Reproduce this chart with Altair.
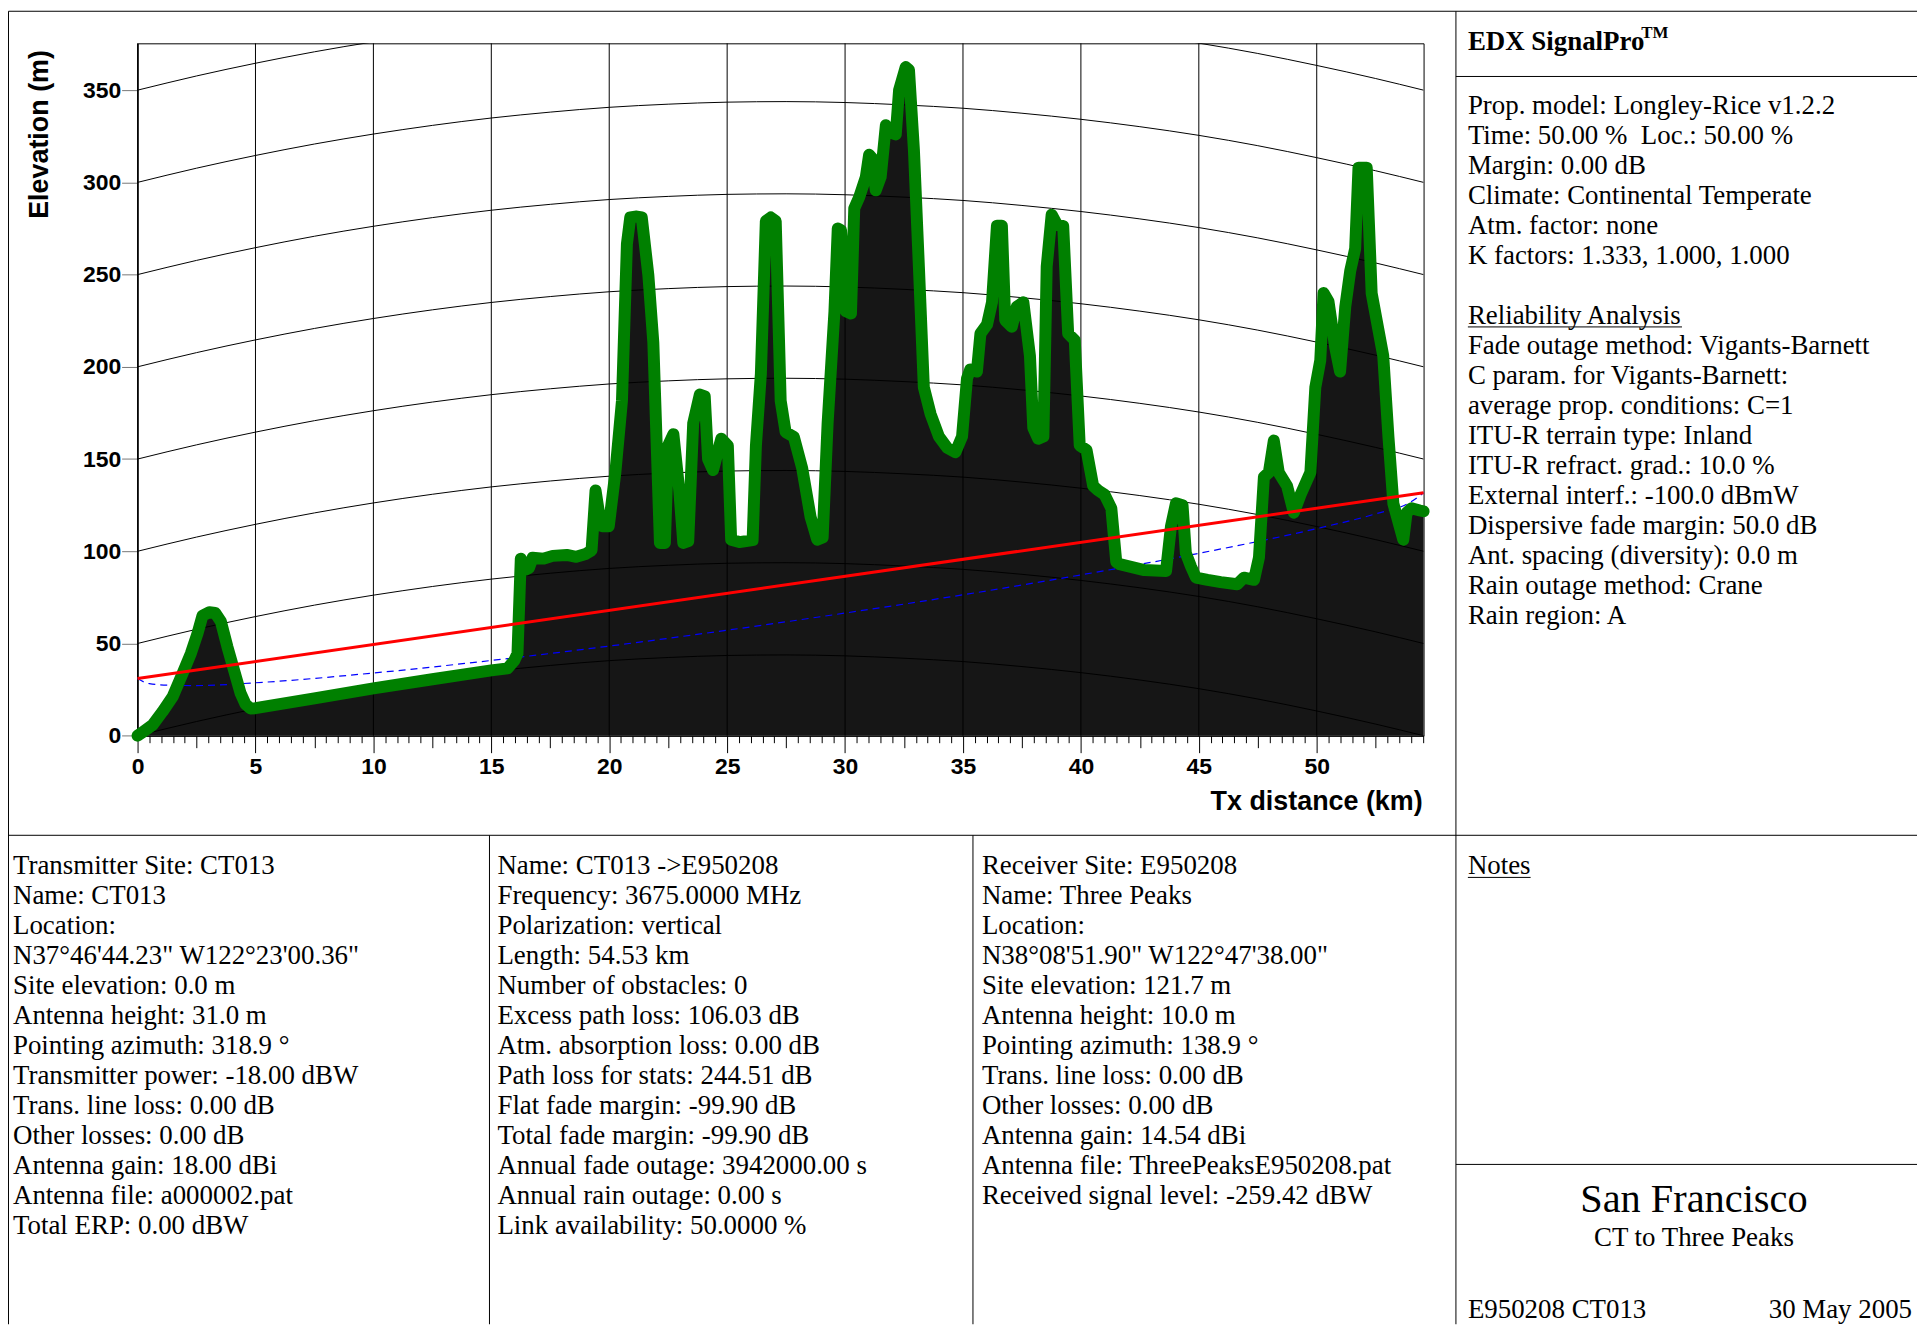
import altair as alt
import pandas as pd

# ---------------- data ----------------
terrain_km = [
    0.0, 0.22, 0.64, 1.06, 1.49, 1.91, 2.26, 2.54, 2.75, 3.04,
    3.29, 3.53, 3.81, 4.09, 4.37, 4.58, 4.79, 5.0, 7.5, 10.0,
    12.5, 15.0, 15.69, 15.97, 16.11, 16.25, 16.45, 16.6, 16.75, 17.2,
    17.6, 18.2, 18.6, 19.0, 19.25, 19.42, 19.6, 19.7, 19.98, 20.26,
    20.54, 20.75, 20.89, 21.17, 21.38, 21.66, 21.87, 22.15, 22.36, 22.5,
    22.72, 22.97, 23.14, 23.35, 23.56, 23.84, 24.05, 24.19, 24.4, 24.75,
    25.03, 25.17, 25.52, 26.08, 26.22, 26.43, 26.64, 26.85, 27.06, 27.27,
    27.48, 27.83, 28.18, 28.54, 28.82, 29.05, 29.26, 29.55, 29.69, 29.83,
    30.04, 30.25, 30.39, 30.6, 30.88, 31.02, 31.16, 31.3, 31.51, 31.73,
    31.94, 32.15, 32.29, 32.57, 32.71, 32.92, 33.13, 33.34, 33.63, 33.98,
    34.33, 34.68, 34.96, 35.17, 35.31, 35.59, 35.74, 36.02, 36.23, 36.44,
    36.65, 36.79, 37.07, 37.28, 37.56, 37.84, 37.98, 38.19, 38.41, 38.55,
    38.76, 38.97, 39.25, 39.46, 39.74, 39.95, 40.24, 40.52, 40.73, 41.01,
    41.29, 41.5, 41.64, 42.69, 43.61, 43.82, 44.03, 44.31, 44.45, 44.67,
    44.88, 45.37, 45.93, 46.63, 46.91, 47.34, 47.55, 47.76, 47.97, 48.18,
    48.39, 48.74, 49.03, 49.31, 49.73, 49.94, 50.15, 50.29, 50.5, 50.78,
    50.99, 51.21, 51.42, 51.63, 51.77, 52.12, 52.33, 52.61, 52.82, 53.04,
    53.25, 53.46, 53.67, 53.81, 54.02, 54.37, 54.53,
]
terrain_m = [
    0.0, 2.0, 5.9, 13.1, 21.2, 33.8, 44.6, 55.4, 65.0, 67.0,
    66.6, 62.0, 48.2, 35.6, 23.0, 17.1, 14.8, 14.9, 20.3, 25.7,
    30.6, 35.4, 36.5, 40.7, 44.6, 96.0, 90.0, 91.0, 96.5, 96.0,
    97.5, 98.0, 97.0, 98.5, 100.5, 133.0, 118.0, 113.6, 113.6, 142.7,
    181.6, 266.6, 281.0, 281.5, 281.0, 249.6, 213.1, 104.5, 104.5, 157.3,
    163.5, 133.0, 104.5, 105.5, 169.4, 185.0, 184.0, 150.0, 144.0, 161.0,
    157.3, 106.3, 105.0, 106.0, 157.3, 196.1, 279.0, 281.0, 279.0, 181.6,
    164.6, 162.0, 145.1, 118.5, 106.3, 107.5, 169.4, 230.1, 275.0, 274.0,
    230.1, 228.9, 285.9, 292.0, 302.9, 315.0, 313.0, 295.7, 302.9, 331.0,
    327.0, 326.0, 350.0, 362.5, 361.0, 317.5, 254.4, 188.9, 174.3, 162.2,
    156.1, 153.7, 162.2, 193.7, 198.6, 197.4, 218.0, 222.9, 235.0, 276.5,
    276.5, 225.3, 221.7, 232.6, 235.0, 205.9, 167.0, 161.0, 162.2, 254.4,
    282.5, 277.5, 276.3, 218.0, 214.4, 157.3, 154.9, 135.5, 133.0, 130.6,
    123.3, 94.2, 93.0, 89.8, 89.3, 113.6, 126.0, 125.0, 99.0, 91.7,
    85.7, 84.5, 83.3, 82.1, 85.7, 84.5, 96.6, 140.3, 142.7, 160.0,
    142.7, 135.5, 120.9, 130.6, 142.7, 188.9, 203.5, 240.0, 235.4, 210.7,
    197.4, 232.6, 252.0, 264.1, 308.0, 308.0, 239.8, 220.4, 205.9, 162.2,
    125.8, 116.0, 106.3, 120.9, 123.3, 122.1, 121.7,
]

# line of sight (Tx 0 m + 31 m antenna, Rx 121.7 m + 10 m antenna)
ray_km = [0.0, 54.53]
ray_m = [31.0, 131.7]

# 0.6 Fresnel clearance line (blue dashed)
fresnel_km = [0, 0.5, 1.5, 2.5, 5, 10, 15, 20, 25, 30, 35, 40, 45, 50, 52.5, 54.0, 54.53]
fresnel_m = [31.0, 28.2, 27.3, 27.2, 28.7, 34.0, 40.8, 48.6, 57.2, 66.5, 76.4, 87.2,
             98.9, 112.3, 120.3, 126.8, 131.7]

# earth-curvature reference lines: bulge above the chord
bulge_km = [0, 2.5, 5, 7.5, 10, 12.5, 15, 17.5, 20, 22.5, 25, 27.5, 30, 32.5, 35,
            37.5, 40, 42.5, 45, 47.5, 50, 52.5, 54.53]
bulge_m = [0, 7.7, 14.6, 20.8, 26.2, 30.9, 34.9, 38.1, 40.7, 42.4, 43.5, 43.8, 43.3,
           42.0, 40.2, 37.5, 34.2, 30.2, 25.5, 19.9, 13.4, 6.3, 0]
curve_levels = [0, 50, 100, 150, 200, 250, 300, 350]

x_label_values = [0, 5, 10, 15, 20, 25, 30, 35, 40, 45, 50]
x_tick_values = [i * 0.5 for i in range(110)]
y_tick_values = [0, 50, 100, 150, 200, 250, 300, 350]

right_lines_1 = [
    "Prop. model: Longley-Rice v1.2.2",
    "Time: 50.00 %\u00a0 Loc.: 50.00 %",
    "Margin: 0.00 dB",
    "Climate: Continental Temperate",
    "Atm. factor: none",
    "K factors: 1.333, 1.000, 1.000",
]
right_lines_2 = [
    "Reliability Analysis",
    "Fade outage method: Vigants-Barnett",
    "C param. for Vigants-Barnett:",
    "average prop. conditions: C=1",
    "ITU-R terrain type: Inland",
    "ITU-R refract. grad.: 10.0 %",
    "External interf.: -100.0 dBmW",
    "Dispersive fade margin: 50.0 dB",
    "Ant. spacing (diversity): 0.0 m",
    "Rain outage method: Crane",
    "Rain region: A",
]
tx_lines = [
    "Transmitter Site: CT013",
    "Name: CT013",
    "Location:",
    "N37°46'44.23\" W122°23'00.36\"",
    "Site elevation: 0.0 m",
    "Antenna height: 31.0 m",
    "Pointing azimuth: 318.9 °",
    "Transmitter power: -18.00 dBW",
    "Trans. line loss: 0.00 dB",
    "Other losses: 0.00 dB",
    "Antenna gain: 18.00 dBi",
    "Antenna file: a000002.pat",
    "Total ERP: 0.00 dBW",
]
link_lines = [
    "Name: CT013 ->E950208",
    "Frequency: 3675.0000 MHz",
    "Polarization: vertical",
    "Length: 54.53 km",
    "Number of obstacles: 0",
    "Excess path loss: 106.03 dB",
    "Atm. absorption loss: 0.00 dB",
    "Path loss for stats: 244.51 dB",
    "Flat fade margin: -99.90 dB",
    "Total fade margin: -99.90 dB",
    "Annual fade outage: 3942000.00 s",
    "Annual rain outage: 0.00 s",
    "Link availability: 50.0000 %",
]
rx_lines = [
    "Receiver Site: E950208",
    "Name: Three Peaks",
    "Location:",
    "N38°08'51.90\" W122°47'38.00\"",
    "Site elevation: 121.7 m",
    "Antenna height: 10.0 m",
    "Pointing azimuth: 138.9 °",
    "Trans. line loss: 0.00 dB",
    "Other losses: 0.00 dB",
    "Antenna gain: 14.54 dBi",
    "Antenna file: ThreePeaksE950208.pat",
    "Received signal level: -259.42 dBW",
]

# ---------------- tables ----------------
terrain_df = pd.DataFrame({"km": terrain_km, "m": terrain_m})
ray_df = pd.DataFrame({"km": ray_km, "m": ray_m})
fresnel_df = pd.DataFrame({"km": fresnel_km, "m": fresnel_m})
curves_df = pd.DataFrame(
    [{"level": lv, "km": k, "m": lv + b} for lv in curve_levels for k, b in zip(bulge_km, bulge_m)]
)
grid_df = pd.DataFrame({"km": x_label_values})
one = pd.DataFrame({"a": [0]})

# ---------------- layout (pixels) ----------------
W, H = 1291.4, 695.3
PAD = {"left": 130.1, "top": 32.7, "right": 495.5, "bottom": 591.0}
X0, Y0 = 138.1, 40.7   # page position of plot origin
RIGHT = W + PAD["right"]
BOTTOM = H + PAD["bottom"]
LEFT = -PAD["left"] + 0.5
TOP = -PAD["top"] + 0.5
LH = 30.1

def px(v):
    return v - X0

def py(v):
    return v - Y0

SERIF = "Liberation Serif"
SANS = "Liberation Sans"

xs = alt.Scale(domain=[0, 54.53], nice=False, zero=False)
ys = alt.Scale(domain=[0, 375.4], nice=False, zero=False)

x_axis = alt.Axis(
    values=x_tick_values,
    grid=False,
    tickColor="black",
    domainColor="black",
    tickSize={"condition": [{"test": "datum.value % 5 === 0", "value": 17},
                            {"test": "datum.value % 2.5 === 0", "value": 12}],
              "value": 7},
    labelExpr="datum.value % 5 === 0 ? format(datum.value, 'd') : ''",
    labelOverlap=False,
    labelFlush=False,
    labelBound=False,
    labelFont=SANS, labelFontSize=23, labelFontWeight="bold", labelColor="black",
    labelPadding=3,
    title="Tx distance (km)",
    titleFont=SANS, titleFontSize=27, titleFontWeight="bold", titleColor="black",
    titleX=1290, titleY=66, titleAlign="right", titleBaseline="middle", titleAnchor="end",
)
y_axis = alt.Axis(
    values=y_tick_values,
    grid=False,
    tickColor="#777777",
    tickSize=16,
    domainColor="black",
    labelFont=SANS, labelFontSize=23, labelFontWeight="bold", labelColor="black",
    labelPadding=1,
    title="Elevation (m)",
    titleFont=SANS, titleFontSize=27, titleFontWeight="bold", titleColor="black",
    titleX=px(39.5), titleY=py(131.7), titleAlign="center", titleBaseline="middle",
)

X_ENC = alt.X("km:Q", scale=xs, axis=x_axis)
Y_ENC = alt.Y("m:Q", scale=ys, axis=y_axis)

area = alt.Chart(terrain_df).mark_area(color="#161616").encode(x=X_ENC, y=Y_ENC)
vgrid = alt.Chart(grid_df).mark_rule(color="black", strokeWidth=1).encode(x=X_ENC)
curves = alt.Chart(curves_df).mark_line(
    color="black", strokeWidth=1, clip=True, interpolate="monotone"
).encode(x=X_ENC, y=Y_ENC, detail="level:N")
fresnel = alt.Chart(fresnel_df).mark_line(
    color="#0000ff", strokeWidth=1.2, strokeDash=[7, 5], interpolate="monotone"
).encode(x=X_ENC, y=Y_ENC)
green = alt.Chart(terrain_df).mark_line(
    color="#008000", strokeWidth=12, strokeJoin="round", strokeCap="round"
).encode(x=X_ENC, y=Y_ENC)
ray = alt.Chart(ray_df).mark_line(color="#ff0000", strokeWidth=3).encode(x=X_ENC, y=Y_ENC)

def hline(y, x1, x2):
    return alt.Chart(one).mark_rule(color="black", strokeWidth=1).encode(
        x=alt.value(x1), x2=alt.value(x2), y=alt.value(y), y2=alt.value(y))

def vline(x, y1, y2):
    return alt.Chart(one).mark_rule(color="black", strokeWidth=1).encode(
        x=alt.value(x), x2=alt.value(x), y=alt.value(y1), y2=alt.value(y2))

def text_block(lines, x, y, size=27, weight="normal", align="left"):
    return alt.Chart(one).mark_text(
        text=lines, align=align, baseline="alphabetic", font=SERIF,
        fontSize=size, fontWeight=weight, lineHeight=LH, color="black",
    ).encode(x=alt.value(x), y=alt.value(y))

RX = 1474  # left edge of right-hand panel texts (page px)

frame = [
    hline(TOP, LEFT, RIGHT),
    vline(LEFT, TOP, BOTTOM),
    vline(px(1462), TOP, BOTTOM),
    hline(py(836), LEFT, RIGHT),
    vline(px(491.5), py(836), BOTTOM),
    vline(px(977), py(836), BOTTOM),
    hline(py(74), px(1462), RIGHT),
    hline(py(1166.5), px(1462), RIGHT),
    hline(py(325.5), px(RX), px(RX + 215)),
    hline(py(878.3), px(RX), px(RX + 63)),
]

texts = [
    text_block(["EDX SignalPro"], px(RX), py(47), weight="bold"),
    text_block(["TM"], px(RX + 174), py(35), size=17, weight="bold"),
    text_block(right_lines_1, px(RX), py(111.5)),
    text_block(right_lines_2, px(RX), py(322.6)),
    text_block(tx_lines, px(13), py(875)),
    text_block(link_lines, px(499.5), py(875)),
    text_block(rx_lines, px(986), py(875)),
    text_block(["Notes"], px(RX), py(875)),
    text_block(["San Francisco"], px(1701), py(1214.5), size=40.5, align="center"),
    text_block(["CT to Three Peaks"], px(1701), py(1248.5), align="center"),
    text_block(["E950208 CT013"], px(RX), py(1321)),
    text_block(["30 May 2005"], px(1920), py(1321), align="right"),
]

chart = alt.layer(
    area, vgrid, curves, fresnel, green, ray, *frame, *texts
).properties(
    width=W, height=H, padding=PAD,
    autosize=alt.AutoSizeParams(type="none"),
    background="white",
).configure_view(stroke="black", strokeWidth=1)

chart.save("out.html", embed_options={"renderer": "svg", "actions": False})
